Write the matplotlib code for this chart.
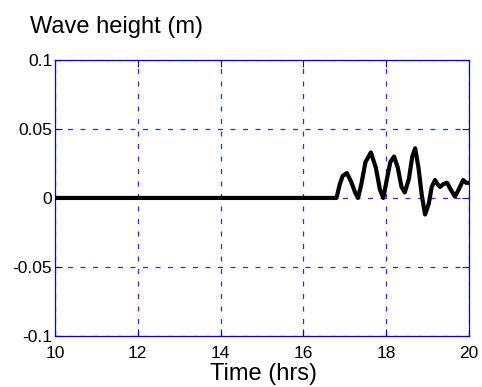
import matplotlib
matplotlib.use("Agg")
import matplotlib.pyplot as plt

plt.rcParams['font.family'] = ['Liberation Sans', 'DejaVu Sans']

# Time (hrs) and wave height (m)
time_hrs = [10.0, 16.80, 16.88, 16.95, 17.05, 17.15, 17.25, 17.32, 17.40, 17.50, 17.63,
            17.75, 17.85, 17.93, 18.02, 18.10, 18.19, 18.28, 18.37, 18.45, 18.55,
            18.63, 18.70, 18.78, 18.86, 18.94, 19.03, 19.10, 19.18, 19.24, 19.30,
            19.38, 19.47, 19.56, 19.66, 19.75, 19.86, 19.93, 20.0]
wave_m = [0.0, 0.0, 0.010, 0.016, 0.018, 0.012, 0.004, 0.000, 0.010, 0.026, 0.033,
          0.022, 0.006, 0.000, 0.014, 0.026, 0.030, 0.022, 0.008, 0.004, 0.014,
          0.030, 0.036, 0.022, 0.002, -0.012, -0.004, 0.008, 0.013, 0.010, 0.008,
          0.010, 0.011, 0.006, 0.001, 0.006, 0.013, 0.011, 0.011]

x_ticks = [10, 12, 14, 16, 18, 20]
y_ticks = [-0.1, -0.05, 0, 0.05, 0.1]
y_tick_labels = ['-0.1', '-0.05', '0', '0.05', '0.1']

fig = plt.figure(figsize=(4.82, 3.87), dpi=100)
ax = fig.add_axes([0.114, 0.132, 0.859, 0.713])
ax.plot(time_hrs, wave_m, color='black', linewidth=3.0, solid_joinstyle='round',
        solid_capstyle='butt', zorder=3)
ax.set_xlim(10, 20)
ax.set_ylim(-0.1, 0.1)
ax.set_xticks(x_ticks)
ax.set_xticklabels([str(t) for t in x_ticks])
ax.set_yticks(y_ticks)
ax.set_yticklabels(y_tick_labels)
ax.grid(True, color='#2a2aff', linestyle=(0, (4, 6)), linewidth=0.9)
for s in ax.spines.values():
    s.set_color('#0000ee')
    s.set_linewidth(0.9)
ax.tick_params(direction='in', colors='#0000ee', labelcolor='black', labelsize=12.5,
               length=5, top=True, right=True)
ax.tick_params(axis='x', pad=7)
ax.tick_params(axis='y', pad=2)
fig.text(264 / 482, 7 / 387, 'Time (hrs)', fontsize=17, ha='center', va='baseline')
fig.text(30 / 482, 1 - 33 / 387, 'Wave height (m)', fontsize=17, ha='left', va='baseline')
fig.savefig('out.png', dpi=100)
